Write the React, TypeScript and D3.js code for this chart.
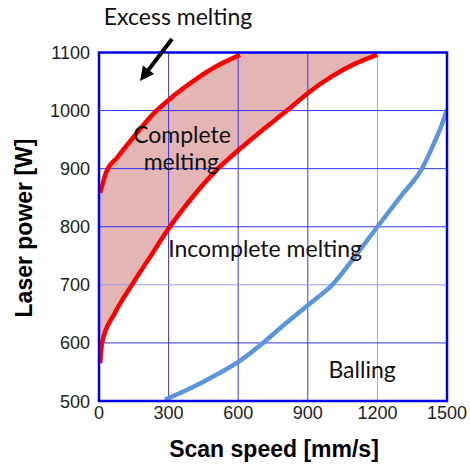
import React from "react";
import * as d3 from "d3";

// process window boundaries: [scan speed mm/s, laser power W]
const excessBoundary: [number, number][] = [
  [5, 858], [30, 893], [80, 920], [150, 955], [233, 994], [320, 1025],
  [414, 1053], [500, 1075], [608, 1096],
];
const completeBoundary: [number, number][] = [
  [5, 565], [13, 600], [69, 652], [142, 700], [220, 748], [302, 798],
  [401, 850], [500, 895], [616, 937], [700, 965], [810, 1000], [900, 1030],
  [1000, 1058], [1100, 1080], [1198, 1096],
];
const ballingBoundary: [number, number][] = [
  [284, 502], [405, 524], [500, 544], [599, 567], [707, 600], [800, 632],
  [900, 665], [1010, 702], [1100, 747], [1200, 800], [1300, 852],
  [1392, 900], [1440, 940], [1480, 978], [1500, 1002],
];
const xTicks = [0, 300, 600, 900, 1200, 1500];
const yTicks = [500, 600, 700, 800, 900, 1000, 1100];
const regionLabels = [
  { text: "Complete", v: 358, p: 945 },
  { text: "melting", v: 355, p: 897 },
  { text: "Incomplete melting", v: 716, p: 748 },
  { text: "Balling", v: 1134, p: 540 },
];

const width = 470;
const height = 466;
const margin = { left: 99, right: 23, top: 52.5, bottom: 65 };

export default function App() {
  const x = d3.scaleLinear().domain([0, 1500]).range([margin.left, width - margin.right]);
  const y = d3.scaleLinear().domain([500, 1100]).range([height - margin.bottom, margin.top]);

  const line = d3
    .line<[number, number]>()
    .x((d) => x(d[0]))
    .y((d) => y(d[1]))
    .curve(d3.curveMonotoneX);

  // shaded band between the two red boundaries
  const upperPart = line(excessBoundary) as string;
  const lowerPart = (line([...completeBoundary].reverse()) as string).replace(/^M/, "L");
  const bandPath =
    upperPart +
    `L${x(610)},${y(1100)}L${x(1198)},${y(1100)}` +
    lowerPart +
    `L${x(0)},${y(565)}L${x(0)},${y(858)}Z`;

  const lightX = new Set([1200]);
  const lightY = new Set([700]);

  // arrow pointing at the excess melting zone
  const a0 = [172, 39];
  const a1 = [140, 81];
  const ang = Math.atan2(a1[1] - a0[1], a1[0] - a0[0]);
  const headLen = 14;
  const headW = 7;
  const base = [a1[0] - headLen * Math.cos(ang), a1[1] - headLen * Math.sin(ang)];
  const head = [
    a1,
    [base[0] + headW * Math.sin(ang), base[1] - headW * Math.cos(ang)],
    [base[0] - headW * Math.sin(ang), base[1] + headW * Math.cos(ang)],
  ];

  return (
    <svg
      width={width}
      height={height}
      style={{ position: "fixed", left: 0, top: 0, background: "#fff" }}
      fontFamily="'Liberation Sans', Arial, sans-serif"
    >
      <defs>
        <clipPath id="plot">
          <rect x={x(0)} y={y(1100)} width={x(1500) - x(0)} height={y(500) - y(1100)} />
        </clipPath>
      </defs>

      <path d={bandPath} fill="#e4b5b5" clipPath="url(#plot)" />

      {xTicks.slice(1, -1).map((t) => (
        <line
          key={"gx" + t}
          x1={x(t)}
          x2={x(t)}
          y1={y(500)}
          y2={y(1100)}
          stroke={lightX.has(t) ? "#9a9aee" : "#3434f4"}
          strokeWidth={1}
        />
      ))}
      {yTicks.slice(1, -1).map((t) => (
        <line
          key={"gy" + t}
          x1={x(0)}
          x2={x(1500)}
          y1={y(t)}
          y2={y(t)}
          stroke={lightY.has(t) ? "#9a9aee" : "#3434f4"}
          strokeWidth={1}
        />
      ))}

      <g clipPath="url(#plot)" fill="none" strokeLinecap="butt">
        <path d={line(excessBoundary) as string} stroke="#ff0000" strokeWidth={4.5} />
        <path d={line(completeBoundary) as string} stroke="#ff0000" strokeWidth={4.5} />
        <path d={line(ballingBoundary) as string} stroke="#5b95dc" strokeWidth={4.5} />
      </g>

      <rect
        x={x(0)}
        y={y(1100)}
        width={x(1500) - x(0)}
        height={y(500) - y(1100)}
        fill="none"
        stroke="#0000ee"
        strokeWidth={2.5}
      />

      {yTicks.map((t) => (
        <text key={"ty" + t} x={x(0) - 9} y={y(t) + 6.5} textAnchor="end" fontSize={18} fill="#222">
          {t}
        </text>
      ))}
      {xTicks.map((t) => (
        <text key={"tx" + t} x={x(t)} y={419} textAnchor="middle" fontSize={18} fill="#222">
          {t}
        </text>
      ))}

      <text x={274} y={457} textAnchor="middle" fontSize={23} fontWeight="bold" fill="#000">
        Scan speed [mm/s]
      </text>
      <text
        transform={`translate(32,228) rotate(-90)`}
        textAnchor="middle"
        fontSize={23}
        fontWeight="bold"
        fill="#000"
      >
        Laser power [W]
      </text>

      <g fontFamily="Lato, 'Open Sans', sans-serif" fontSize={23} fill="#111">
        {regionLabels.map((l) => (
          <text key={l.text} x={x(l.v)} y={y(l.p)} textAnchor="middle">
            {l.text}
          </text>
        ))}
        <text x={178} y={25} textAnchor="middle">
          Excess melting
        </text>
      </g>

      <line x1={a0[0]} y1={a0[1]} x2={base[0]} y2={base[1]} stroke="#000" strokeWidth={4} />
      <polygon points={head.map((p) => p.join(",")).join(" ")} fill="#000" />
    </svg>
  );
}
